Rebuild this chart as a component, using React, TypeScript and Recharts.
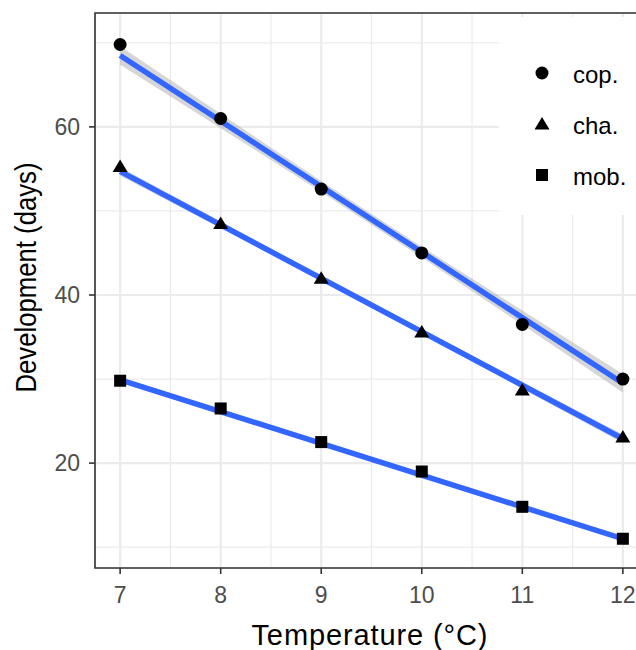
import {
  ComposedChart,
  Area,
  Line,
  Scatter,
  XAxis,
  YAxis,
  CartesianGrid,
  ReferenceArea,
  Legend,
} from 'recharts';

const temps = [7, 8, 9, 10, 11, 12];
const copDays = [69.8, 61.0, 52.6, 45.0, 36.5, 30.0];
const chaDays = [55.3, 48.5, 42.0, 35.6, 28.7, 23.1];
const mobDays = [29.8, 26.5, 22.5, 19.0, 14.8, 11.0];

// fitted lines, read at the first and last temperature
const copFit = [68.5, 29.5];
const chaFit = [54.7, 22.9];
const mobFit = [29.9, 11.0];

// confidence band (low / high) at each temperature
const copLo = [67.4, 59.85, 52.25, 44.45, 36.45, 28.4];
const copHi = [69.6, 61.55, 53.55, 45.75, 38.15, 30.6];
const chaLo = [54.2, 47.95, 41.7, 35.3, 28.85, 22.4];
const chaHi = [55.2, 48.75, 42.3, 35.9, 29.65, 23.4];
const mobLo = [29.55, 25.85, 22.15, 18.35, 14.5, 10.65];
const mobHi = [30.25, 26.4, 22.55, 18.75, 15.05, 11.35];

const xTicks = [7, 8, 9, 10, 11, 12];
const xMinor = [7.5, 8.5, 9.5, 10.5, 11.5];
const yTicks = [20, 40, 60];
const yMinor = [10, 30, 50, 70];
const xDomain = [6.75, 12.25];
const yDomain = [7.52, 73.55];

const names = ['cop.', 'cha.', 'mob.'];
const shapes = ['circle', 'triangle', 'square'];

const FONT = '"Liberation Sans", Arial, Helvetica, sans-serif';
const BLUE = '#3366FF';

const last = temps.length - 1;
const rows = temps.map((x, i) => ({
  x,
  cop: copDays[i],
  cha: chaDays[i],
  mob: mobDays[i],
  copBand: [copLo[i], copHi[i]],
  chaBand: [chaLo[i], chaHi[i]],
  mobBand: [mobLo[i], mobHi[i]],
  copFit: i === 0 ? copFit[0] : i === last ? copFit[1] : null,
  chaFit: i === 0 ? chaFit[0] : i === last ? chaFit[1] : null,
  mobFit: i === 0 ? mobFit[0] : i === last ? mobFit[1] : null,
}));

function Marker({ kind, cx, cy }: { kind: string; cx: number; cy: number }) {
  if (kind === 'circle') return <circle cx={cx} cy={cy} r={6.5} fill="#000" />;
  if (kind === 'triangle')
    return (
      <polygon
        points={`${cx},${cy - 7} ${cx - 7.5},${cy + 5.5} ${cx + 7.5},${cy + 5.5}`}
        fill="#000"
      />
    );
  return <rect x={cx - 6} y={cy - 6} width={12} height={12} fill="#000" />;
}

const shapeFor = (kind: string) => (p: any) => <Marker kind={kind} cx={p.cx} cy={p.cy} />;

function XTick(p: any) {
  return (
    <text x={p.x} y={p.y} dy="0.71em" textAnchor="middle" fontSize={23} fontFamily={FONT} fill="#4D4D4D">
      {p.payload.value}
    </text>
  );
}

function YTick(p: any) {
  return (
    <text x={p.x} y={p.y} dy="0.36em" textAnchor="end" fontSize={23} fontFamily={FONT} fill="#4D4D4D">
      {p.payload.value}
    </text>
  );
}

function LegendBox() {
  return (
    <svg width={160} height={198}>
      {names.map((n, i) => (
        <g key={n}>
          <Marker kind={shapes[i]} cx={43} cy={56 + i * 51} />
          <text
            x={74}
            y={57 + i * 51}
            dominantBaseline="central"
            fontSize={24}
            fontFamily={FONT}
            fill="#000"
          >
            {n}
          </text>
        </g>
      ))}
    </svg>
  );
}

function YTitle({ viewBox }: any) {
  const y = viewBox.y + viewBox.height / 2 - 13;
  return (
    <text
      transform={`translate(25, ${y}) rotate(-90)`}
      textAnchor="middle"
      dominantBaseline="central"
      fontSize={30}
      fontFamily={FONT}
      fill="#000"
      textLength={230}
      lengthAdjust="spacingAndGlyphs"
    >
      Development (days)
    </text>
  );
}

function XTitle({ viewBox }: any) {
  const x = viewBox.x + viewBox.width / 2 - 2;
  return (
    <text
      x={x}
      y={645}
      textAnchor="middle"
      fontSize={29}
      fontFamily={FONT}
      fill="#000"
      textLength={236}
      lengthAdjust="spacing"
    >
      Temperature (°C)
    </text>
  );
}

export default function App() {
  return (
    <div
      style={{
        position: 'fixed',
        left: 0,
        top: 0,
        width: 636,
        height: 650,
        overflow: 'hidden',
        background: '#fff',
      }}
    >
      <ComposedChart
        width={660}
        height={650}
        data={rows}
        margin={{ top: 13, right: 12, bottom: 0, left: 0 }}
        style={{ fontFamily: FONT }}
      >
        <XAxis
          xAxisId="minor"
          type="number"
          dataKey="x"
          domain={xDomain}
          ticks={xMinor}
          allowDataOverflow
          hide
        />
        <YAxis yAxisId="minor" type="number" domain={yDomain} ticks={yMinor} allowDataOverflow hide />
        <CartesianGrid xAxisId="minor" yAxisId="minor" stroke="#EBEBEB" strokeWidth={1.2} />
        <CartesianGrid stroke="#EBEBEB" strokeWidth={2.2} />
        <XAxis
          type="number"
          dataKey="x"
          domain={xDomain}
          ticks={xTicks}
          interval={0}
          allowDataOverflow
          height={82}
          axisLine={false}
          tickSize={6}
          tickMargin={13}
          tickLine={{ stroke: '#333333', strokeWidth: 1.6 }}
          tick={<XTick />}
          label={<XTitle />}
        />
        <YAxis
          type="number"
          domain={yDomain}
          ticks={yTicks}
          interval={0}
          allowDataOverflow
          width={95}
          axisLine={false}
          tickSize={6}
          tickMargin={9}
          tickLine={{ stroke: '#333333', strokeWidth: 1.6 }}
          tick={<YTick />}
          label={<YTitle />}
        />
        <Area dataKey="copBand" type="linear" stroke="none" fill="#999999" fillOpacity={0.4} isAnimationActive={false} />
        <Area dataKey="chaBand" type="linear" stroke="none" fill="#999999" fillOpacity={0.4} isAnimationActive={false} />
        <Area dataKey="mobBand" type="linear" stroke="none" fill="#999999" fillOpacity={0.4} isAnimationActive={false} />
        <Line dataKey="copFit" connectNulls stroke={BLUE} strokeWidth={5.5} dot={false} activeDot={false} isAnimationActive={false} />
        <Line dataKey="chaFit" connectNulls stroke={BLUE} strokeWidth={5.5} dot={false} activeDot={false} isAnimationActive={false} />
        <Line dataKey="mobFit" connectNulls stroke={BLUE} strokeWidth={5.5} dot={false} activeDot={false} isAnimationActive={false} />
        <Scatter dataKey="cop" shape={shapeFor('circle')} isAnimationActive={false} />
        <Scatter dataKey="cha" shape={shapeFor('triangle')} isAnimationActive={false} />
        <Scatter dataKey="mob" shape={shapeFor('square')} isAnimationActive={false} />
        <ReferenceArea
          x1={xDomain[0]}
          x2={xDomain[1]}
          y1={yDomain[0]}
          y2={yDomain[1]}
          fill="none"
          stroke="#333333"
          strokeWidth={1.6}
          ifOverflow="visible"
        />
        <Legend
          layout="vertical"
          align="center"
          verticalAlign="middle"
          width={160}
          height={198}
          wrapperStyle={{ left: 499, top: 17, width: 160, height: 198, background: '#fff' }}
          content={() => <LegendBox />}
        />
      </ComposedChart>
    </div>
  );
}
